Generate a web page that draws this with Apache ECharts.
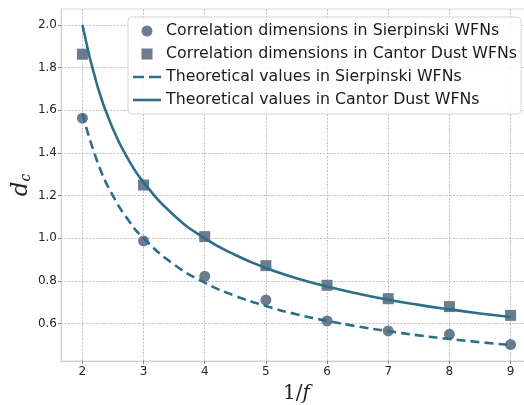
<!DOCTYPE html>
<html>
<head>
<meta charset="utf-8">
<script src="https://cdn.jsdelivr.net/npm/echarts@6/dist/echarts.min.js"></script>
<style>
  html, body { margin: 0; padding: 0; background: #fff; }
  #chart { width: 524px; height: 405px; }
</style>
</head>
<body>
<div id="chart"></div>
<script>
// measured points
const xPoints = [2, 3, 4, 5, 6, 7, 8, 9];
const sierpinskiMeasured = [1.563, 0.988, 0.822, 0.711, 0.613, 0.566, 0.550, 0.502];
const cantorMeasured = [1.863, 1.250, 1.008, 0.872, 0.780, 0.717, 0.680, 0.639];

// theoretical curves
const xTheory = [2, 2.25, 2.5, 2.75, 3, 3.5, 4, 4.5, 5, 5.5, 6, 6.5, 7, 7.5, 8, 8.5, 9];
const sierpinskiTheory = [1.585, 1.355, 1.199, 1.086, 1.0, 0.877, 0.792, 0.730, 0.683, 0.644, 0.613, 0.587, 0.565, 0.545, 0.528, 0.513, 0.5];
const cantorTheory = [2.0, 1.709, 1.513, 1.370, 1.262, 1.107, 1.0, 0.922, 0.861, 0.813, 0.774, 0.741, 0.712, 0.688, 0.667, 0.648, 0.631];

const xTicks = [2, 3, 4, 5, 6, 7, 8, 9];
const yTicks = [0.6, 0.8, 1.0, 1.2, 1.4, 1.6, 1.8, 2.0];

const names = [
  'Correlation dimensions in Sierpinski WFNs',
  'Correlation dimensions in Cantor Dust WFNs',
  'Theoretical values in Sierpinski WFNs',
  'Theoretical values in Cantor Dust WFNs'
];

const markerColor = '#6c7b8d';
const lineColor = '#2b6f88';

function pairs(xs, ys) {
  return xs.map((x, i) => [x, ys[i]]);
}

const chart = echarts.init(document.getElementById('chart'));

const axisCommon = {
  type: 'value',
  axisLine: { show: true, lineStyle: { color: '#cfcfcf', width: 1 } },
  axisTick: { show: true, length: 3, lineStyle: { color: '#8a8a8a' } },
  splitLine: { show: true, lineStyle: { color: '#b0b0b0', type: [2, 1.5], width: 0.8 } },
  axisLabel: { color: '#262626', fontSize: 12, fontFamily: 'DejaVu Sans', margin: 4 }
};

const serif = 'DejaVu Serif';

chart.setOption({
  animation: false,
  grid: {
    left: 61, width: 471, top: 9, bottom: 44,
    outerBoundsMode: 'none',
    containLabel: false,
    show: true, borderColor: '#dcdcdc', borderWidth: 1
  },
  xAxis: Object.assign({}, axisCommon, {
    min: 1.65, max: 9.35,
    axisTick: Object.assign({}, axisCommon.axisTick, { customValues: xTicks }),
    axisLabel: Object.assign({}, axisCommon.axisLabel, { customValues: xTicks, margin: 5 }),
    name: '{n|1/}{f|f}',
    nameLocation: 'middle',
    nameGap: 23,
    nameTextStyle: {
      rich: {
        n: { fontFamily: serif, fontSize: 20, color: '#222' },
        f: { fontFamily: serif, fontStyle: 'italic', fontSize: 20, color: '#222' }
      }
    }
  }),
  yAxis: Object.assign({}, axisCommon, {
    min: 0.425, max: 2.075,
    axisTick: Object.assign({}, axisCommon.axisTick, { customValues: yTicks }),
    axisLabel: Object.assign({}, axisCommon.axisLabel, {
      customValues: yTicks,
      formatter: v => v.toFixed(1)
    }),
    name: '{d|d}{c|c}',
    nameLocation: 'middle',
    nameRotate: 90,
    nameGap: 28,
    nameMoveOverlap: false,
    nameTextStyle: {
      rich: {
        d: { fontFamily: serif, fontStyle: 'italic', fontSize: 23, color: '#222' },
        c: { fontFamily: serif, fontStyle: 'italic', fontSize: 14, color: '#222', padding: [10, 0, 0, 0] }
      }
    }
  }),
  legend: {
    orient: 'vertical',
    left: 128,
    top: 17,
    padding: [5, 4, 5, 5],
    itemGap: 5,
    itemWidth: 28,
    itemHeight: 11,
    symbolKeepAspect: true,
    backgroundColor: 'rgba(255,255,255,0.85)',
    borderColor: '#d6d6d6',
    borderWidth: 1,
    borderRadius: 4,
    textStyle: { fontFamily: 'DejaVu Sans', fontSize: 15.8, color: '#1a1a1a', lineHeight: 18 },
    data: [
      { name: names[0], icon: 'circle' },
      { name: names[1], icon: 'path://M0,0h10v10h-10z' },
      { name: names[2], icon: 'path://M0,0h11v2.6h-11z M16,0h12v2.6h-12z' },
      { name: names[3], icon: 'path://M0,0h28v2.6h-28z' }
    ]
  },
  series: [
    {
      name: names[0], type: 'scatter', symbol: 'circle', symbolSize: 11,
      itemStyle: { color: markerColor, opacity: 1 },
      data: pairs(xPoints, sierpinskiMeasured)
    },
    {
      name: names[1], type: 'scatter', symbol: 'rect', symbolSize: 11,
      itemStyle: { color: markerColor, opacity: 1 },
      data: pairs(xPoints, cantorMeasured)
    },
    {
      name: names[2], type: 'line', smooth: true, showSymbol: false, symbol: 'none',
      lineStyle: { color: lineColor, width: 2.6, type: [9, 5] },
      itemStyle: { color: lineColor },
      data: pairs(xTheory, sierpinskiTheory)
    },
    {
      name: names[3], type: 'line', smooth: true, showSymbol: false, symbol: 'none',
      lineStyle: { color: lineColor, width: 2.6 },
      itemStyle: { color: lineColor },
      data: pairs(xTheory, cantorTheory)
    }
  ]
});
</script>
</body>
</html>
